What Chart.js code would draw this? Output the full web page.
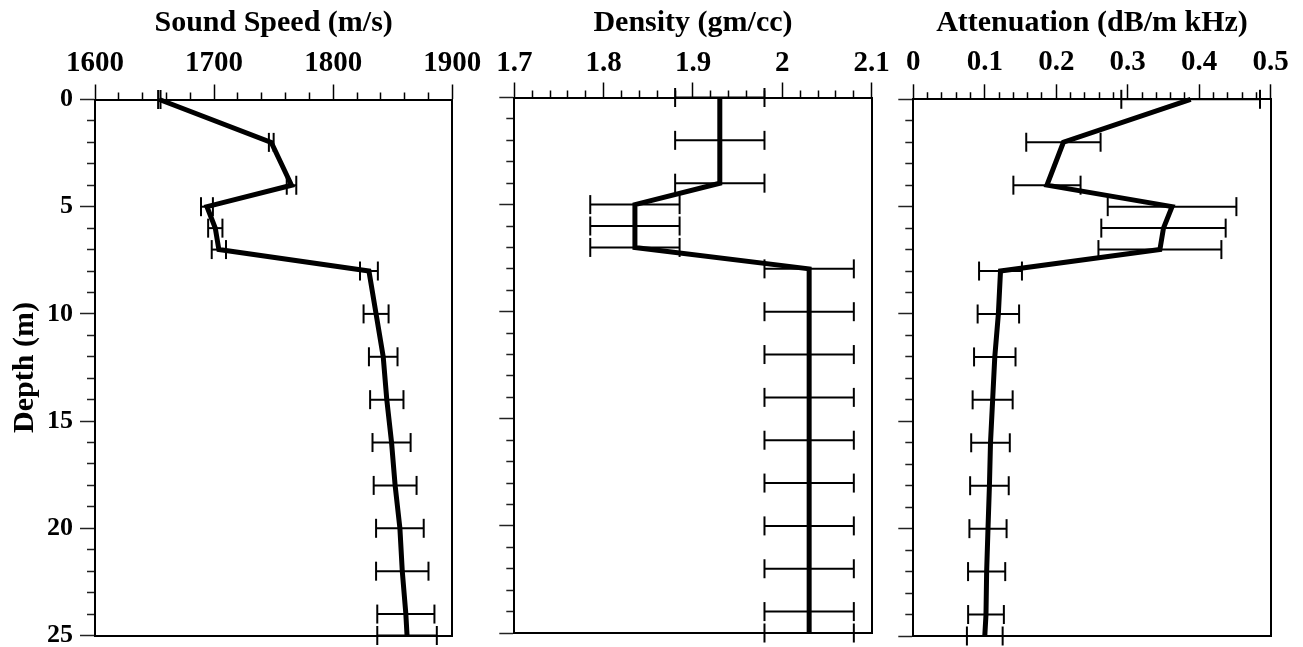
<!DOCTYPE html>
<html>
<head>
<meta charset="utf-8">
<title>Sediment profiles</title>
<script src="https://cdn.jsdelivr.net/npm/chart.js@4.4.1/dist/chart.umd.min.js"></script>
<style>
  html, body { margin: 0; padding: 0; background: #fff; overflow: hidden; width: 1303px; height: 647px; }
  .panel { position: absolute; top: 0; height: 680px; }
</style>
</head>
<body>
<div class="panel" style="left:0px;width:490px"><canvas id="speedChart"></canvas></div>
<div class="panel" style="left:460px;width:435px"><canvas id="densityChart"></canvas></div>
<div class="panel" style="left:880px;width:423px"><canvas id="attenChart"></canvas></div>
<script>
// depth of each layer sample (m)
const depths = [0, 2, 4, 5, 6, 7, 8, 10, 12, 14, 16, 18, 20, 22, 24, 25];

const soundSpeed = [1654, 1748, 1765, 1694, 1701, 1704, 1830, 1836, 1842, 1845, 1849, 1852, 1856, 1858, 1861, 1862];
const soundSpeedErr = [1, 2, 4, 5, 6, 6, 7.5, 10.5, 12, 14, 16, 18, 20, 22, 24, 25];

const density = [1.93, 1.93, 1.93, 1.835, 1.835, 1.835, 2.03, 2.03, 2.03, 2.03, 2.03, 2.03, 2.03, 2.03, 2.03, 2.03];
const densityErr = [0.05, 0.05, 0.05, 0.05, 0.05, 0.05, 0.05, 0.05, 0.05, 0.05, 0.05, 0.05, 0.05, 0.05, 0.05, 0.05];

const attenuation = [0.388, 0.21, 0.187, 0.362, 0.35, 0.345, 0.122, 0.119, 0.114, 0.111, 0.108, 0.1065, 0.1045, 0.1026, 0.1017, 0.1];
const attenuationErr = [0.097, 0.052, 0.047, 0.09, 0.087, 0.086, 0.03, 0.029, 0.029, 0.028, 0.027, 0.027, 0.026, 0.026, 0.025, 0.025];

// labelled (major) ticks
const depthLabels = ['0', '5', '10', '15', '20', '25'];
const speedLabels = ['1600', '1700', '1800', '1900'];
const densityLabels = ['1.7', '1.8', '1.9', '2', '2.1'];
const attenLabels = ['0', '0.1', '0.2', '0.3', '0.4', '0.5'];

const serif = "'Liberation Serif', 'Times New Roman', serif";
const titleFont = { family: serif, size: 30, weight: 'bold' };
const xTickFont = { family: serif, size: 29, weight: 'bold' };
const yTickFont = { family: serif, size: 26, weight: 'bold' };

function labelFor(value, labels) {
    const l = labels.find(l => Math.abs(Number(l) - value) < 1e-6);
    return l === undefined ? '' : l;
}

function tickDash(labels, len, minorLen) {
    // minor ticks: only the inner part of the tick is drawn
    return ctx => (ctx.tick && labelFor(ctx.tick.value, labels) === '') ? [0, len - minorLen, minorLen, 100] : [];
}

function profileDatasets(values, errors) {
    const sets = [{
        data: depths.map((d, i) => ({ x: values[i], y: d })),
        showLine: true,
        borderColor: '#000',
        borderWidth: 5,
        pointRadius: 0,
        clip: false,
    }];
    depths.forEach((d, i) => {
        sets.push({
            data: [{ x: values[i] - errors[i], y: d }, { x: values[i] + errors[i], y: d }],
            showLine: true,
            borderColor: '#000',
            borderWidth: 2,
            pointStyle: 'line',
            rotation: 90,
            pointRadius: 9.5,
            pointHoverRadius: 9.5,
            pointBorderWidth: 2,
            pointBorderColor: '#000',
            clip: false,
        });
    });
    return sets;
}

function makePanel(id, cfg) {
    const ctx = document.getElementById(id).getContext('2d');
    return new Chart(ctx, {
        type: 'scatter',
        data: { datasets: profileDatasets(cfg.values, cfg.errors) },
        options: {
            responsive: true,
            maintainAspectRatio: false,
            animation: false,
            events: [],
            layout: { padding: { left: 0, top: 0, right: cfg.padRight, bottom: cfg.padBottom } },
            plugins: { legend: { display: false }, tooltip: { enabled: false } },
            scales: {
                x: {
                    type: 'linear',
                    position: 'top',
                    min: cfg.xMin,
                    max: cfg.xMax,
                    border: { color: '#000', width: 2 },
                    grid: {
                        drawOnChartArea: false,
                        tickLength: 15,
                        tickWidth: 1.5,
                        tickColor: '#000',
                        tickBorderDash: tickDash(cfg.xLabels, 15, 7),
                    },
                    ticks: {
                        stepSize: cfg.xStep,
                        autoSkip: false,
                        maxTicksLimit: 100,
                        maxRotation: 0,
                        padding: cfg.xTickPad,
                        color: '#000',
                        font: xTickFont,
                        callback: v => labelFor(v, cfg.xLabels),
                    },
                    title: { display: true, text: cfg.title, color: '#000', font: titleFont, padding: { top: 5, bottom: 0 } },
                    afterFit: s => { s.height = cfg.top; },
                },
                y: {
                    type: 'linear',
                    position: 'left',
                    reverse: true,
                    min: 0,
                    max: 25,
                    border: { color: '#000', width: 2 },
                    grid: {
                        drawOnChartArea: false,
                        tickLength: 15,
                        tickWidth: 1.5,
                        tickColor: '#222',
                        tickBorderDash: tickDash(depthLabels, 15, 8),
                    },
                    ticks: {
                        stepSize: 1,
                        autoSkip: false,
                        maxTicksLimit: 100,
                        display: cfg.showDepth,
                        padding: 7,
                        color: '#000',
                        font: yTickFont,
                        callback: v => labelFor(v, depthLabels),
                    },
                    title: { display: cfg.showDepth, text: 'Depth (m)', color: '#000', font: titleFont, padding: { top: 7, bottom: 0 } },
                    afterFit: s => { s.width = cfg.left; },
                },
                x2: {
                    type: 'linear',
                    position: 'bottom',
                    min: cfg.xMin,
                    max: cfg.xMax,
                    border: { color: '#000', width: 2 },
                    grid: { drawOnChartArea: false, drawTicks: false },
                    ticks: { display: false },
                    afterFit: s => { s.height = 0; },
                },
                y2: {
                    type: 'linear',
                    position: 'right',
                    reverse: true,
                    min: 0,
                    max: 25,
                    border: { color: '#000', width: 2 },
                    grid: { drawOnChartArea: false, drawTicks: false },
                    ticks: { display: false },
                    afterFit: s => { s.width = 0; },
                },
            },
        },
    });
}

makePanel('speedChart', {
    values: soundSpeed, errors: soundSpeedErr, title: 'Sound Speed (m/s)',
    xMin: 1600, xMax: 1900, xStep: 20, xLabels: speedLabels,
    left: 95, top: 99.5, padRight: 37.7, padBottom: 44.5, xTickPad: 4, showDepth: true,
});

makePanel('densityChart', {
    values: density, errors: densityErr, title: 'Density (gm/cc)',
    xMin: 1.7, xMax: 2.1, xStep: 0.02, xLabels: densityLabels,
    left: 54.3, top: 97.5, padRight: 23.3, padBottom: 47, xTickPad: 2, showDepth: false,
});

makePanel('attenChart', {
    values: attenuation, errors: attenuationErr, title: 'Attenuation (dB/m kHz)',
    xMin: 0, xMax: 0.5, xStep: 0.02, xLabels: attenLabels,
    left: 33.3, top: 99.3, padRight: 32.3, padBottom: 44, xTickPad: 4, showDepth: false,
});
</script>
</body>
</html>
